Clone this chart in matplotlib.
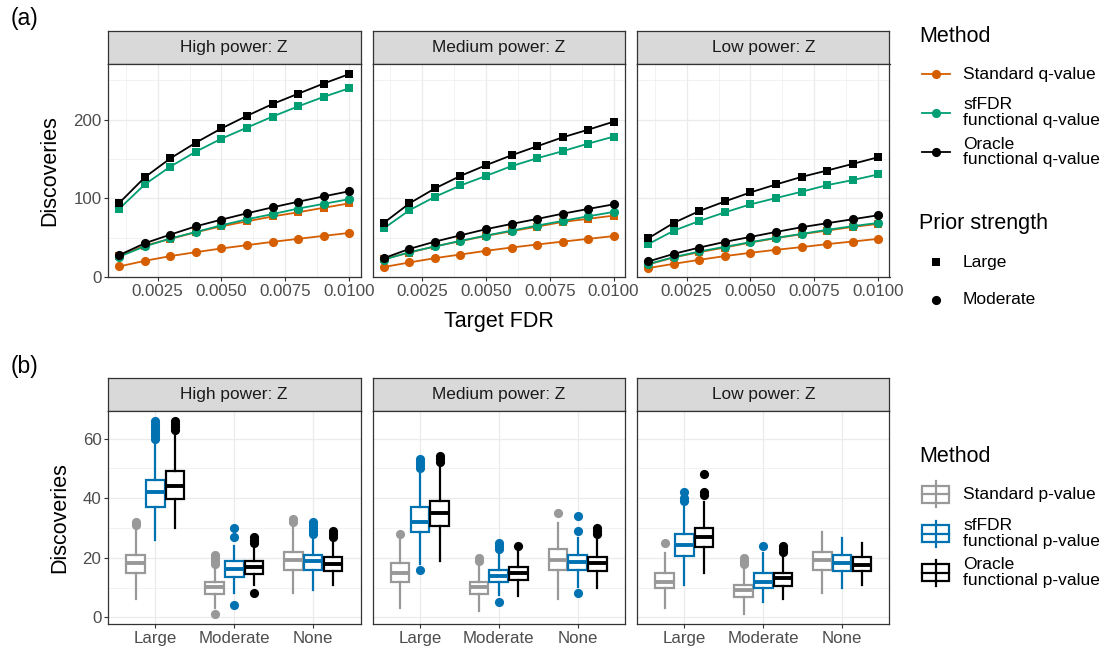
import matplotlib
matplotlib.use("Agg")
import matplotlib.pyplot as plt
import numpy as np
from matplotlib.lines import Line2D
from matplotlib.patches import Rectangle

plt.rcParams["font.family"] = ["Liberation Sans", "DejaVu Sans"]

# ---- (a) discoveries vs target FDR -------------------------------------
fdr = [0.001, 0.002, 0.003, 0.004, 0.005, 0.006, 0.007, 0.008, 0.009, 0.010]
powers = ["High power: Z", "Medium power: Z", "Low power: Z"]

std_large_high = [27, 40, 48.5, 57, 64.5, 70.8, 77, 82.3, 88, 93.6]
std_mod_high = [13.5, 20.6, 26.6, 31.6, 36.3, 40.5, 44.7, 48.5, 52.3, 56]
sf_large_high = [87, 118, 140.5, 159.5, 176, 190, 204, 217, 229, 240]
sf_mod_high = [26, 39, 49, 57.3, 65.8, 73.4, 80, 87, 93, 99]
or_large_high = [94.5, 127, 151, 171, 189, 205, 220, 233, 246, 258]
or_mod_high = [28, 43, 54, 64.5, 73, 81, 88.6, 95.7, 102.5, 109]

std_large_med = [23, 31, 39, 45.6, 52.3, 58.2, 64, 70, 74, 78]
std_mod_med = [12.7, 18.5, 24, 28.6, 33.3, 37.5, 41.3, 45, 48.5, 52]
sf_large_med = [62, 85, 102, 116.4, 128.6, 141, 151, 160, 169.6, 178.5]
sf_mod_med = [22, 31.6, 38.8, 46, 52.7, 59, 65.4, 71.3, 77.2, 82.7]
or_large_med = [69, 93.7, 112.7, 128.6, 142.2, 154.8, 166.2, 177.6, 187.3, 197.5]
or_mod_med = [24, 35.8, 45, 53, 60.8, 67.5, 73.8, 80.5, 86.5, 92.4]

std_large_low = [16, 25, 31.6, 37.5, 43.9, 49.4, 54.4, 59, 63.7, 67.5]
std_mod_low = [11.4, 16.8, 21.9, 26.6, 30.8, 34.6, 38, 41.8, 45.1, 48.5]
sf_large_low = [42, 59, 71.3, 82.3, 92.4, 100.4, 108.4, 116.8, 123.2, 130.4]
sf_mod_low = [16.5, 25.3, 32.5, 38.4, 44.3, 49.8, 54.8, 60, 64.6, 68.8]
or_large_low = [49.4, 69, 84, 96.2, 107.6, 117.7, 127.3, 135.4, 143.8, 152.3]
or_mod_low = [19.8, 29.5, 37.5, 44.7, 51, 57.3, 63.3, 68.4, 73.4, 78.5]

# ---- (b) boxplot summaries: [whislo, q1, median, q3, whishi] ------------
priors = ["Large", "Moderate", "None"]

box_high_std = [[6, 14.8, 18.1, 20.9, 30], [3, 7.7, 10.1, 11.7, 17], [8, 15.9, 19.2, 21.9, 31]]
out_high_std = [[31, 32], [1, 18, 19, 20, 21], [32, 33]]
box_high_sf = [[26, 37.1, 42.2, 46.1, 59], [8, 13.6, 16.2, 18.9, 24], [9, 15.9, 19, 21, 27]]
out_high_sf = [[60, 61, 62, 63, 64, 65, 66], [4, 27, 30], [28, 29, 30, 31, 32]]
box_high_or = [[30, 39.8, 44.1, 49.2, 62], [11, 14.5, 17, 19, 24], [11, 15.6, 17.9, 20.1, 26]]
out_high_or = [[63, 64, 65, 66], [8, 25, 26, 27], [27, 28, 29]]

box_med_std = [[3, 11.7, 15, 18.1, 26], [2, 7.7, 10.1, 11.7, 18], [6, 15.9, 19.2, 22.9, 31.5]]
out_med_std = [[28], [19, 20], [35]]
box_med_sf = [[18, 28.7, 32.1, 37.1, 49], [7.6, 11.7, 14, 15.9, 22], [10.3, 15.9, 18.7, 21, 26.5]]
out_med_sf = [[16, 50, 51, 52, 53], [5, 23, 24, 25], [8, 29, 34]]
box_med_or = [[19, 30.7, 34.9, 39, 50.5], [7, 12.6, 15, 17, 22.6], [10, 15.6, 18.1, 20.1, 26]]
out_med_or = [[52, 53, 54], [24], [28, 29, 30]]

box_low_std = [[3, 9.7, 11.9, 15, 21.7], [1, 6.7, 9, 10.8, 17.6], [8, 15.9, 19.2, 21.9, 28.7]]
out_low_std = [[25], [18, 19, 20], []]
box_low_sf = [[11, 20.7, 24.3, 27.9, 37.1], [5, 9.7, 11.9, 15, 21.5], [10, 15.6, 18.1, 21, 26.5]]
out_low_sf = [[39, 40, 42], [24], []]
box_low_or = [[15, 23.7, 27, 30.1, 38.8], [6, 10.6, 13.1, 15, 20.3], [10.8, 15.6, 17.6, 20.1, 24.8]]
out_low_or = [[41, 42, 48], [22, 23, 24], []]

line_colors = ["#D55E00", "#009E73", "#000000"]
box_colors = ["#999999", "#0072B2", "#000000"]
q_labels = ["Standard q-value", "sfFDR\nfunctional q-value", "Oracle\nfunctional q-value"]
p_labels = ["Standard p-value", "sfFDR\nfunctional p-value", "Oracle\nfunctional p-value"]

W, H = 1104, 654
fig = plt.figure(figsize=(W / 100, H / 100), dpi=100)

TICK_GRAY = "#4D4D4D"
DARK = "#333333"
LW = 1.3
MS_SQ, MS_CI = 6.0, 6.6


def px_axes(left, top, right, bottom):
    return fig.add_axes([left / W, 1 - bottom / H, (right - left) / W, (bottom - top) / H])


def style_panel(ax):
    ax.set_facecolor("white")
    for s in ax.spines.values():
        s.set_color(DARK)
        s.set_linewidth(0.9)
    ax.grid(True, which="major", color="#EBEBEB", linewidth=0.9)
    ax.grid(True, which="minor", color="#EBEBEB", linewidth=0.45)
    ax.set_axisbelow(True)
    ax.tick_params(which="major", direction="out", length=2.7, width=0.8, color=DARK,
                   labelcolor=TICK_GRAY, labelsize=12.2, pad=2)
    ax.tick_params(which="minor", length=0)


def add_strip(left, top, right, bottom, title):
    sax = px_axes(left, top, right, bottom)
    sax.set_facecolor("#D9D9D9")
    sax.set_xticks([])
    sax.set_yticks([])
    for s in sax.spines.values():
        s.set_color(DARK)
        s.set_linewidth(0.9)
    sax.text(0.5, 0.5, title, ha="center", va="center", fontsize=12.4, color="#1A1A1A",
             transform=sax.transAxes)


lefts = [108, 372.5, 637]
pw = 252.5

top_series = [
    [(std_large_high, std_mod_high), (sf_large_high, sf_mod_high), (or_large_high, or_mod_high)],
    [(std_large_med, std_mod_med), (sf_large_med, sf_mod_med), (or_large_med, or_mod_med)],
    [(std_large_low, std_mod_low), (sf_large_low, sf_mod_low), (or_large_low, or_mod_low)],
]
ymax_a = max(max(v) for facet in top_series for pair in facet for v in pair)
xspan = fdr[-1] - fdr[0]

for i, (title, facet) in enumerate(zip(powers, top_series)):
    add_strip(lefts[i], 31, lefts[i] + pw, 64, title)
    ax = px_axes(lefts[i], 64, lefts[i] + pw, 277)
    style_panel(ax)
    for (large, moderate), col in zip(facet, line_colors):
        ax.plot(fdr, large, color=col, lw=LW, marker="s", ms=MS_SQ, mew=0)
        ax.plot(fdr, moderate, color=col, lw=LW, marker="o", ms=MS_CI, mew=0)
    ax.set_xlim(fdr[0] - 0.05 * xspan, fdr[-1] + 0.05 * xspan)
    ax.set_ylim(0, ymax_a * 1.05)
    ax.set_xticks([0.0025, 0.005, 0.0075, 0.01])
    ax.set_xticklabels(["0.0025", "0.0050", "0.0075", "0.0100"])
    ax.set_xticks([0.00125, 0.00375, 0.00625, 0.00875], minor=True)
    ax.set_yticks([0, 100, 200])
    ax.set_yticks([50, 150, 250], minor=True)
    if i == 0:
        ax.set_ylabel("Discoveries", fontsize=15.5, labelpad=9)
    else:
        ax.set_yticklabels([])
        ax.tick_params(axis="y", which="major", length=0)

fig.text(((lefts[0] + lefts[2] + pw) / 2) / W, 1 - 322 / H, "Target FDR", ha="center",
         va="center", fontsize=15.5)

# ---- (b) boxplots ---------------------------------------------------------
bottom_boxes = [
    [(box_high_std, out_high_std), (box_high_sf, out_high_sf), (box_high_or, out_high_or)],
    [(box_med_std, out_med_std), (box_med_sf, out_med_sf), (box_med_or, out_med_or)],
    [(box_low_std, out_low_std), (box_low_sf, out_low_sf), (box_low_or, out_low_or)],
]
all_vals = [v for facet in bottom_boxes for b, o in facet for row in b for v in row]
all_vals += [v for facet in bottom_boxes for b, o in facet for row in o for v in row]
lo_b, hi_b = min(all_vals), max(all_vals)
pad_b = 0.05 * (hi_b - lo_b)
offsets = [-0.25, 0.0, 0.25]
xpos = np.arange(1, len(priors) + 1)

for i, (title, facet) in enumerate(zip(powers, bottom_boxes)):
    add_strip(lefts[i], 378, lefts[i] + pw, 411, title)
    ax = px_axes(lefts[i], 411, lefts[i] + pw, 624)
    style_panel(ax)
    ax.grid(False, axis="x", which="minor")
    for (stats, outs), col, off in zip(facet, box_colors, offsets):
        bstats = [dict(whislo=s[0], q1=s[1], med=s[2], q3=s[3], whishi=s[4], fliers=o)
                  for s, o in zip(stats, outs)]
        ax.bxp(bstats, positions=xpos + off, widths=0.235, showcaps=False,
               patch_artist=True, manage_ticks=False,
               boxprops=dict(facecolor="white", edgecolor=col, linewidth=1.6),
               whiskerprops=dict(color=col, linewidth=1.6),
               medianprops=dict(color=col, linewidth=2.8, solid_capstyle="butt"),
               flierprops=dict(marker="o", markerfacecolor=col, markeredgecolor=col,
                               markersize=6.6, markeredgewidth=0))
    ax.set_xlim(0.4, len(priors) + 0.6)
    ax.set_ylim(lo_b - pad_b, hi_b + pad_b)
    ax.set_xticks(xpos)
    ax.set_xticklabels(priors)
    ax.set_yticks([0, 20, 40, 60])
    ax.set_yticks([10, 30, 50], minor=True)
    if i == 0:
        ax.set_ylabel("Discoveries", fontsize=15.5, labelpad=9)
    else:
        ax.set_yticklabels([])
        ax.tick_params(axis="y", which="major", length=0)

# ---- panel tags and legends ----------------------------------------------
ov = fig.add_axes([0, 0, 1, 1], facecolor="none")
ov.set_xlim(0, W)
ov.set_ylim(H, 0)
ov.axis("off")

ov.text(11, 19, "(a)", fontsize=16.5, va="center", ha="left")
ov.text(11, 367, "(b)", fontsize=16.5, va="center", ha="left")

# method legend for (a)
ov.text(919, 37, "Method", fontsize=15.5, va="center")
for lab, col, y in zip(q_labels, line_colors, [74, 112.5, 152]):
    ov.add_line(Line2D([921.5, 949.5], [y, y], color=col, lw=LW))
    ov.plot([935.5], [y], marker="o", color=col, ms=MS_CI, mew=0)
    ov.text(963, y, lab, fontsize=12.5, va="center", linespacing=1.05)

ov.text(919, 224, "Prior strength", fontsize=15.5, va="center")
for lab, mk, y in zip(["Large", "Moderate"], ["s", "o"], [262, 300]):
    ov.plot([935.5], [y], marker=mk, color="black", ms=MS_SQ if mk == "s" else MS_CI, mew=0)
    ov.text(963, y, lab, fontsize=12.5, va="center")

# method legend for (b)
ov.text(919, 457, "Method", fontsize=15.5, va="center")
for lab, col, y in zip(p_labels, box_colors, [494, 533.5, 572.5]):
    ov.add_line(Line2D([935.5, 935.5], [y - 13, y + 13], color=col, lw=1.6))
    ov.add_patch(Rectangle((922, y - 8.5), 27, 17, facecolor="white", edgecolor=col, lw=1.6))
    ov.add_line(Line2D([922, 949], [y, y], color=col, lw=1.6))
    ov.text(963, y, lab, fontsize=12.5, va="center", linespacing=1.05)

fig.savefig("out.png", dpi=100)
